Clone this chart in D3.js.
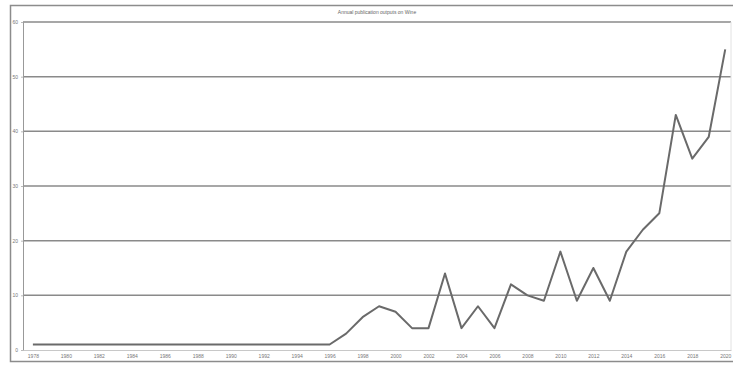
<!DOCTYPE html>
<html>
<head>
<meta charset="utf-8">
<script src="https://cdn.jsdelivr.net/npm/d3@7"></script>
<style>
  html, body { margin: 0; padding: 0; background: #fff; }
  svg { display: block; }
</style>
</head>
<body>
<svg id="chart" width="733" height="365"></svg>
<script>
// Annual counts of publications
const years  = [1978, 1984, 1994, 1996, 1997, 1998, 1999, 2000, 2001, 2002, 2003, 2004, 2005, 2006, 2007, 2008, 2009, 2010, 2011, 2012, 2013, 2014, 2015, 2016, 2017, 2018, 2019, 2020];
const counts = [1, 1, 1, 1, 3, 6, 8, 7, 4, 4, 14, 4, 8, 4, 12, 10, 9, 18, 9, 15, 9, 18, 22, 25, 43, 35, 39, 55];
const xTickYears = d3.range(1978, 2021, 2);
const yTicks = [0, 10, 20, 30, 40, 50, 60];
const title = "Annual publication outputs on Wine";

const svg = d3.select("#chart");
const W = 733, H = 365;
const plot = { left: 23, right: 731, top: 22, bottom: 350 };

// outer frame
svg.append("rect")
  .attr("x", 10.5).attr("y", 5.5)
  .attr("width", 730).attr("height", 356)
  .attr("fill", "none").attr("stroke", "#8c8c8c").attr("stroke-width", 1.5);

const x = d3.scaleLinear().domain([1977.4, 2020.35]).range([plot.left, plot.right]);
const y = d3.scaleLinear().domain([0, 60]).range([plot.bottom, plot.top]);

// horizontal gridlines
svg.append("g")
  .selectAll("line")
  .data(yTicks.filter(d => d > 0))
  .join("line")
  .attr("x1", plot.left).attr("x2", plot.right)
  .attr("y1", d => y(d)).attr("y2", d => y(d))
  .attr("stroke", "#8a8a8a").attr("stroke-width", 1.5);

// y axis
const yAxis = svg.append("g")
  .attr("transform", `translate(${plot.left},0)`)
  .call(d3.axisLeft(y).tickValues(yTicks).tickSize(2).tickPadding(3));
yAxis.select(".domain").attr("stroke", "#999").attr("stroke-width", 1);
yAxis.selectAll(".tick line").attr("stroke", "#bbb");
yAxis.selectAll("text")
  .attr("font-family", "Liberation Sans, Arial, sans-serif")
  .attr("font-size", 5).attr("fill", "#777");

// x axis
const xAxis = svg.append("g")
  .attr("transform", `translate(0,${plot.bottom})`)
  .call(d3.axisBottom(x).tickValues(xTickYears).tickFormat(d3.format("d")).tickSize(0).tickPadding(4));
xAxis.select(".domain").attr("stroke", "#c8c8c8").attr("stroke-width", 1);
xAxis.selectAll("text")
  .attr("font-family", "Liberation Sans, Arial, sans-serif")
  .attr("font-size", 5).attr("fill", "#777");

// right edge of plot area
svg.append("line")
  .attr("x1", plot.right).attr("x2", plot.right)
  .attr("y1", plot.top).attr("y2", plot.bottom)
  .attr("stroke", "#e2e2e2").attr("stroke-width", 1);

// title
svg.append("text")
  .attr("x", 377).attr("y", 14)
  .attr("text-anchor", "middle")
  .attr("font-family", "Liberation Sans, Arial, sans-serif")
  .attr("font-size", 5).attr("fill", "#666")
  .text(title);

// publication line
const data = years.map((yr, i) => ({ yr, v: counts[i] }));
svg.append("path")
  .datum(data)
  .attr("fill", "none")
  .attr("stroke", "#6a6a6a")
  .attr("stroke-width", 2)
  .attr("stroke-linejoin", "round")
  .attr("d", d3.line().x(d => x(d.yr)).y(d => y(d.v)));
</script>
</body>
</html>
